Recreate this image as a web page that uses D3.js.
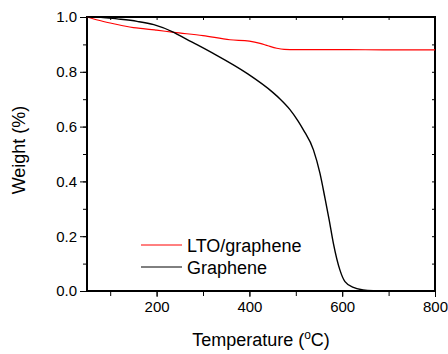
<!DOCTYPE html>
<html>
<head>
<meta charset="utf-8">
<script src="https://cdn.jsdelivr.net/npm/d3@7"></script>
<style>
  body { margin: 0; background: #fff; }
  svg { display: block; }
  .axis path, .axis line { stroke: #000; }
  .axis text { font-size: 15px; fill: #000; font-family: "Liberation Sans", Arial, sans-serif; }
</style>
</head>
<body>
<script>
var ltoTemp   = [50, 75, 100, 125, 150, 175, 200, 237, 300, 358, 400, 423, 440, 459, 475, 500, 600, 700, 800];
var ltoWeight = [1.0, 0.988, 0.978, 0.969, 0.961, 0.957, 0.952, 0.944, 0.932, 0.917, 0.912, 0.904, 0.895, 0.886, 0.882, 0.881, 0.881, 0.880, 0.880];

var grTemp   = [50, 80, 115, 158, 194, 237, 265, 287, 322, 394, 451, 466, 487, 505, 516, 538, 552, 563, 572, 581, 595, 606, 624, 645, 667, 700, 800];
var grWeight = [1.0, 0.999, 0.993, 0.984, 0.972, 0.944, 0.918, 0.899, 0.867, 0.795, 0.724, 0.701, 0.663, 0.620, 0.589, 0.515, 0.430, 0.338, 0.259, 0.174, 0.077, 0.034, 0.013, 0.004, 0.001, 0, 0];

var xTicks = [200, 400, 600, 800];
var yTicks = [0, 0.2, 0.4, 0.6, 0.8, 1.0];
var seriesNames = ["LTO/graphene", "Graphene"];
var seriesColors = ["#ff0000", "#000000"];

var width = 448, height = 354;
var margin = {left: 87, right: 13, top: 17, bottom: 63};
var w = width - margin.left - margin.right;
var h = height - margin.top - margin.bottom;
var font = "'Liberation Sans', Arial, sans-serif";

var x = d3.scaleLinear().domain([50, 800]).range([0, w]);
var y = d3.scaleLinear().domain([0, 1]).range([h, 0]);

var svg = d3.select("body").append("svg").attr("width", width).attr("height", height)
  .attr("font-family", font);
var g = svg.append("g").attr("transform", "translate(" + margin.left + "," + margin.top + ")");

// minor ticks
var xMinor = d3.range(100, 801, 100);
var yMinor = d3.range(0, 1.01, 0.1);

g.append("g").attr("class", "axis")
  .attr("transform", "translate(0," + h + ")")
  .call(d3.axisBottom(x).tickValues(xMinor).tickSize(5).tickFormat(""))
  .select(".domain").remove();
g.append("g").attr("class", "axis")
  .call(d3.axisLeft(y).tickValues(yMinor).tickSize(4).tickFormat(""))
  .select(".domain").remove();
g.append("g").attr("class", "axis")
  .call(d3.axisTop(x).tickValues(xMinor).tickSize(-3).tickFormat(""))
  .select(".domain").remove();
g.append("g").attr("class", "axis")
  .attr("transform", "translate(" + w + ",0)")
  .call(d3.axisRight(y).tickValues(yMinor).tickSize(-3).tickFormat(""))
  .select(".domain").remove();

g.append("g").attr("class", "axis")
  .attr("transform", "translate(0," + h + ")")
  .call(d3.axisBottom(x).tickValues(xTicks).tickSize(6).tickSizeOuter(0).tickPadding(4));
g.append("g").attr("class", "axis")
  .call(d3.axisLeft(y).tickValues(yTicks).tickSize(7).tickSizeOuter(0).tickPadding(3).tickFormat(d3.format(".1f")));

// frame
g.append("rect").attr("width", w).attr("height", h)
  .attr("fill", "none").attr("stroke", "#000").attr("stroke-width", 2);

var line = d3.line()
  .x(function(d) { return x(d[0]); })
  .y(function(d) { return y(d[1]); })
  .curve(d3.curveMonotoneX);

g.append("path")
  .attr("d", line(ltoTemp.map(function(t, i) { return [t, ltoWeight[i]]; })))
  .attr("fill", "none").attr("stroke", seriesColors[0]).attr("stroke-width", 1.2);
g.append("path")
  .attr("d", line(grTemp.map(function(t, i) { return [t, grWeight[i]]; })))
  .attr("fill", "none").attr("stroke", seriesColors[1]).attr("stroke-width", 1.4);

// legend
var legend = svg.append("g").attr("transform", "translate(141,245)");
seriesNames.forEach(function(name, i) {
  var row = legend.append("g").attr("transform", "translate(0," + (i * 22) + ")");
  row.append("line").attr("x1", 0).attr("x2", 41).attr("y1", 0).attr("y2", 0)
    .attr("stroke", seriesColors[i]).attr("stroke-width", 1);
  row.append("text").attr("x", 46).attr("y", 7).attr("font-size", 18).text(name);
});

// axis titles
var xt = svg.append("text").attr("x", margin.left + w / 2 + 0).attr("y", 346)
  .attr("text-anchor", "middle").attr("font-size", 18);
xt.append("tspan").text("Temperature (");
xt.append("tspan").attr("font-size", 12).attr("dy", -7).text("o");
xt.append("tspan").attr("dy", 7).text("C)");

svg.append("text")
  .attr("transform", "translate(25,150) rotate(-90)")
  .attr("text-anchor", "middle").attr("font-size", 18)
  .text("Weight (%)");
</script>
</body>
</html>
